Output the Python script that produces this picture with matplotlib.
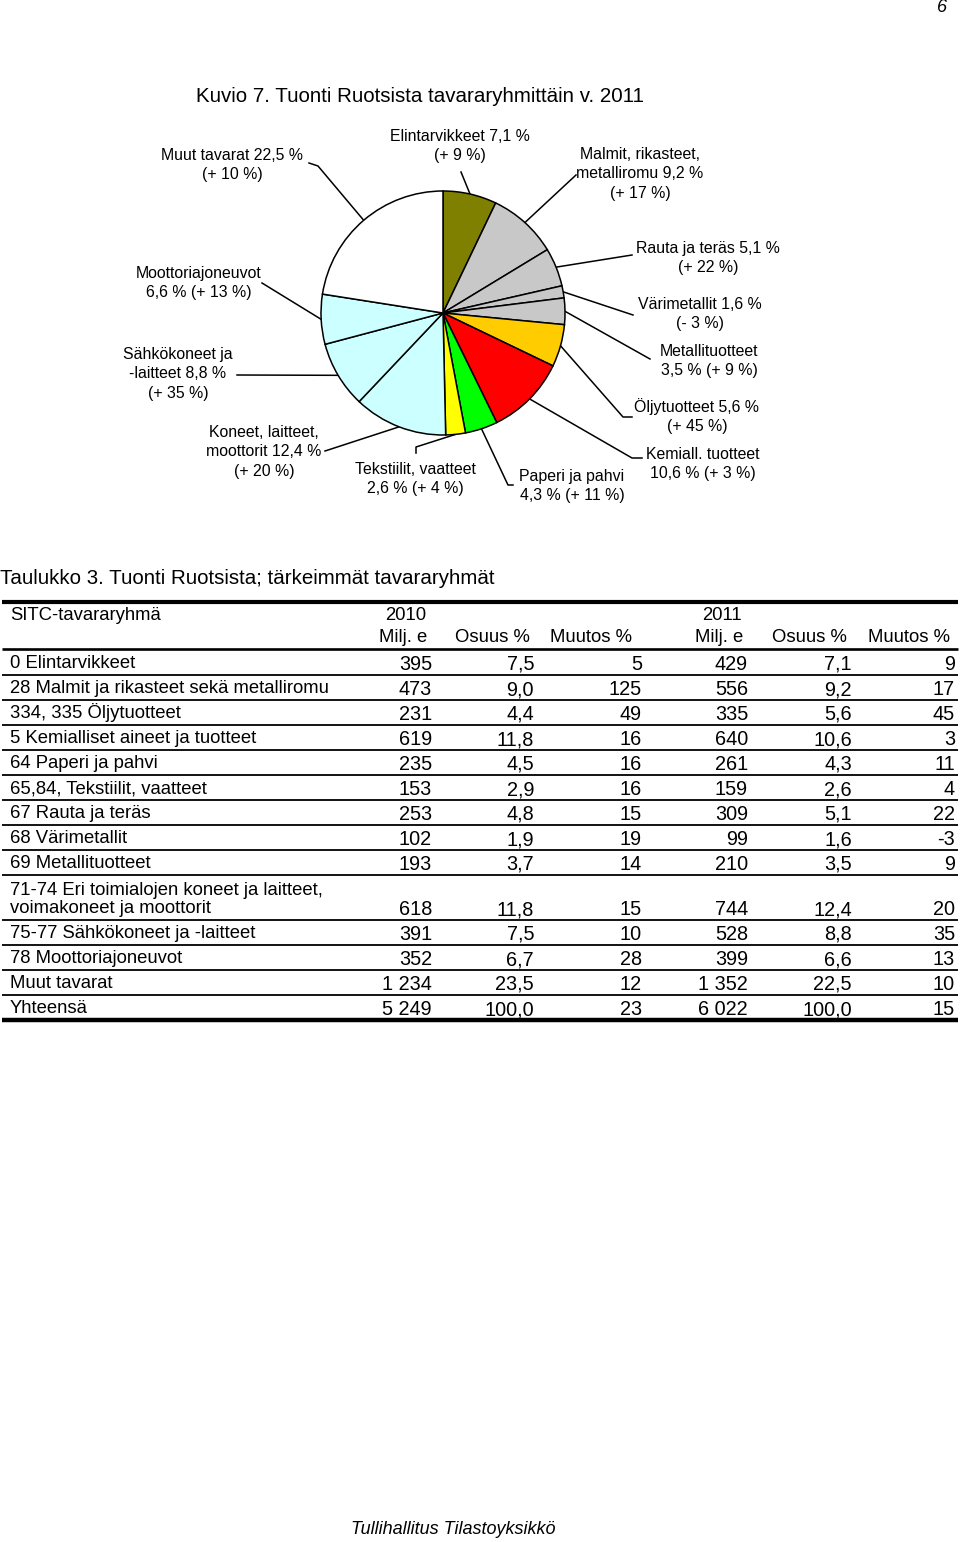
import matplotlib.pyplot as plt
from matplotlib import font_manager
import numpy as np

plt.rcParams['font.family'] = ['Liberation Sans', 'DejaVu Sans']

# Pie: share of imports 2011 (%), clockwise from 12 o'clock
pie_shares = [7.1, 9.2, 5.1, 1.6, 3.5, 5.6, 10.6, 4.3, 2.6, 12.4, 8.8, 6.6, 22.5]
pie_colors = ['#808000', '#C8C8C8', '#C8C8C8', '#C8C8C8', '#C8C8C8', '#FFCC00',
              '#FF0000', '#00FF00', '#FFFF00', '#CCFFFF', '#CCFFFF', '#CCFFFF', '#FFFFFF']
pie_texts = ['Elintarvikkeet 7,1 %\n(+ 9 %)',
             'Malmit, rikasteet,\nmetalliromu 9,2 %\n(+ 17 %)',
             'Rauta ja teräs 5,1 %\n(+ 22 %)',
             'Värimetallit 1,6 %\n(- 3 %)',
             'Metallituotteet\n3,5 % (+ 9 %)',
             'Öljytuotteet 5,6 %\n(+ 45 %)',
             'Kemiall. tuotteet\n10,6 % (+ 3 %)',
             'Paperi ja pahvi\n4,3 % (+ 11 %)',
             'Tekstiilit, vaatteet\n2,6 % (+ 4 %)',
             'Koneet, laitteet,\nmoottorit 12,4 %\n(+ 20 %)',
             'Sähkökoneet ja\n-laitteet 8,8 %\n(+ 35 %)',
             'Moottoriajoneuvot\n6,6 % (+ 13 %)',
             'Muut tavarat 22,5 %\n(+ 10 %)']

# Table 3
row_labels = ['0 Elintarvikkeet', '28 Malmit ja rikasteet sekä metalliromu',
              '334, 335 Öljytuotteet', '5 Kemialliset aineet ja tuotteet',
              '64 Paperi ja pahvi', '65,84, Tekstiilit, vaatteet', '67 Rauta ja teräs',
              '68 Värimetallit', '69 Metallituotteet',
              '71-74 Eri toimialojen koneet ja laitteet,\nvoimakoneet ja moottorit',
              '75-77 Sähkökoneet ja -laitteet', '78 Moottoriajoneuvot',
              'Muut tavarat', 'Yhteensä']
milj_2010 = [395, 473, 231, 619, 235, 153, 253, 102, 193, 618, 391, 352, 1234, 5249]
osuus_2010 = [7.5, 9.0, 4.4, 11.8, 4.5, 2.9, 4.8, 1.9, 3.7, 11.8, 7.5, 6.7, 23.5, 100.0]
muutos_2010 = [5, 125, 49, 16, 16, 16, 15, 19, 14, 15, 10, 28, 12, 23]
milj_2011 = [429, 556, 335, 640, 261, 159, 309, 99, 210, 744, 528, 399, 1352, 6022]
osuus_2011 = [7.1, 9.2, 5.6, 10.6, 4.3, 2.6, 5.1, 1.6, 3.5, 12.4, 8.8, 6.6, 22.5, 100.0]
muutos_2011 = [9, 17, 45, 3, 11, 4, 22, -3, 9, 20, 35, 13, 10, 15]


def fmt_int(v):
    return f'{v:,}'.replace(',', ' ')


def fmt_dec(v):
    return f'{v:.1f}'.replace('.', ',')


# the document text is a tall, narrow Arial; use Liberation Sans Narrow when present
installed = {f.name for f in font_manager.fontManager.ttflist}
if 'Liberation Sans Narrow' in installed:
    tfam = ['Liberation Sans Narrow', 'Liberation Sans', 'DejaVu Sans']
    k = 1 / 0.82
else:
    tfam = ['Liberation Sans', 'DejaVu Sans']
    k = 1.0

W, H = 960, 1542
fig = plt.figure(figsize=(W / 100, H / 100), dpi=100)
ax = fig.add_axes([0, 0, 1, 1])
ax.set_xlim(0, W)
ax.set_ylim(H, 0)
ax.axis('off')

# pie in its own axes, placed in pixel space
cx, cy, R = 443, 313, 122
pax = fig.add_axes([(cx - R) / W, (H - cy - R) / H, 2 * R / W, 2 * R / H])
wedges, _ = pax.pie(pie_shares, colors=pie_colors, startangle=90, counterclock=False,
                    wedgeprops=dict(edgecolor='black', linewidth=1.1))
pax.set_xlim(-1, 1)
pax.set_ylim(-1, 1)
pax.set_aspect('equal')

ax.text(420, 97, 'Kuvio 7. Tuonti Ruotsista tavararyhmittäin v. 2011', fontsize=14.8 * k,
        family=tfam, ha='center', va='center')

# label centre and leader-line start points (pixel space)
label_pos = [(460, 146), (640, 174), (708, 258), (700, 314), (709, 361), (697, 416),
             (703, 464), (572, 486), (415, 479), (264, 452), (178, 374), (199, 283), (232, 165)]
leader_pts = [[(461, 172)], [(576, 175)], [(632, 255)], [(633, 315)], [(650, 359)],
              [(632, 417), (623, 417)], [(642, 458), (632, 458)], [(513, 485), (508, 485)],
              [(416, 453), (416, 447)], [(325, 451)], [(237, 375)], [(262, 283)],
              [(309, 163), (318, 166)]]

for w, txt, (tx, ty), pts in zip(wedges, pie_texts, label_pos, leader_pts):
    mid = np.deg2rad((w.theta1 + w.theta2) / 2)
    anchor = (cx + R * np.cos(mid), cy - R * np.sin(mid))
    xs = [p[0] for p in pts] + [anchor[0]]
    ys = [p[1] for p in pts] + [anchor[1]]
    ax.plot(xs, ys, color='black', lw=1.1)
    ax.text(tx, ty, txt, fontsize=11.4, ha='center', va='center', linespacing=1.35)

# table
ax.text(0, 578, 'Taulukko 3. Tuonti Ruotsista; tärkeimmät tavararyhmät', fontsize=14.8 * k,
        family=tfam, ha='left', va='center')
x0, x1 = 2, 958
ax.plot([x0, x1], [602, 602], color='black', lw=3.0, solid_capstyle='butt')
fs = 13.3 * k
fn = 14.3 * k
ax.text(10, 615, 'SITC-tavararyhmä', fontsize=fs, family=tfam, ha='left', va='center')
ax.text(406, 615, '2010', fontsize=fs, family=tfam, ha='center', va='center')
ax.text(722, 615, '2011', fontsize=fs, family=tfam, ha='center', va='center')
for hx, ht in [(427, 'Milj. e'), (530, 'Osuus %'), (632, 'Muutos %'),
               (743, 'Milj. e'), (847, 'Osuus %'), (950, 'Muutos %')]:
    ax.text(hx, 637, ht, fontsize=fs, family=tfam, ha='right', va='center')
ax.plot([x0, x1], [649, 649], color='black', lw=1.9, solid_capstyle='butt')

col_right = [432, 534, 642, 748, 852, 955]
y = 650
for i, lab in enumerate(row_labels):
    h = 25 + 20 * lab.count('\n')
    bottom = y + h
    vals = [fmt_int(milj_2010[i]), fmt_dec(osuus_2010[i]), str(muutos_2010[i]),
            fmt_int(milj_2011[i]), fmt_dec(osuus_2011[i]), str(muutos_2011[i])]
    ax.text(10, bottom - 7, lab, fontsize=fs, family=tfam, ha='left', va='baseline',
            linespacing=1.1)
    for xr, v in zip(col_right, vals):
        ax.text(xr, bottom - 5, v, fontsize=fn, family=tfam, ha='right', va='baseline')
    last = i == len(row_labels) - 1
    ax.plot([x0, x1], [bottom, bottom], color='black', lw=3.2 if last else 1.3,
            solid_capstyle='butt')
    y = bottom

ax.text(453, 1529, 'Tullihallitus Tilastoyksikkö', fontsize=13 * k, family=tfam,
        style='italic', ha='center', va='center')
ax.text(942, 8, '6', fontsize=13, style='italic', ha='center', va='center')

fig.savefig('out.png', dpi=100)
